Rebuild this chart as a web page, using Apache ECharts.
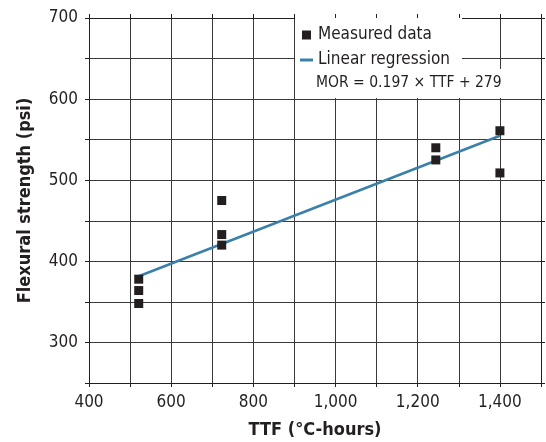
<!DOCTYPE html>
<html>
<head>
<meta charset="utf-8">
<script src="https://cdn.jsdelivr.net/npm/echarts@6/dist/echarts.min.js"></script>
<style>
  html, body { margin: 0; padding: 0; background: #fff; }
  #chart { width: 546px; height: 442px; }
</style>
</head>
<body>
<div id="chart"></div>
<script>
// Measured data: TTF (°C-hours) vs flexural strength (psi)
const ttf = [521, 521, 521, 723, 723, 723, 1244, 1244, 1400, 1400];
const mor = [378, 364, 348, 475, 433, 420, 540, 525, 561, 509];
// Regression line endpoints (MOR = 0.197 x TTF + 279)
const fitTtf = [521, 1400];
const fitMor = [381.6, 554.8];
const formulaText = "MOR = 0.197 × TTF + 279";

const FONT = "'Liberation Sans Narrow', 'DejaVu Sans Condensed', sans-serif";
const INK = "#231f20";
const BLUE = "#3a80a9";

const chart = echarts.init(document.getElementById("chart"), null, { renderer: "canvas" });

const measured = ttf.map((x, i) => [x, mor[i]]);
const fitLine = fitTtf.map((x, i) => [x, fitMor[i]]);

function commas(v) {
  return v.toLocaleString("en-US");
}

chart.setOption({
  animation: false,
  backgroundColor: "#fff",
  grid: { left: 89, top: 18, right: 5, bottom: 59, outerBoundsMode: "none", containLabel: false },
  legend: {
    orient: "vertical",
    left: 295,
    top: 18,
    padding: [8, 12, 1, 5],
    itemGap: 7,
    itemWidth: 13,
    itemHeight: 9,
    symbolKeepAspect: true,
    backgroundColor: "#fff",
    textStyle: { fontFamily: FONT, fontSize: 17, color: INK, lineHeight: 18 },
    data: [
      { name: "Measured data", icon: "path://M0 0H10V10H0Z", itemStyle: { color: INK } },
      { name: "Linear regression", icon: "path://M0 0H13V3H0Z", itemStyle: { color: BLUE } },
    ],
  },
  title: {
    text: formulaText,
    left: 295,
    top: 69,
    padding: [5, 0, 6, 21],
    backgroundColor: "#fff",
    textStyle: { fontFamily: FONT, fontSize: 15.5, fontWeight: "normal", color: INK, lineHeight: 18 },
  },
  xAxis: [
    {
      type: "value",
      min: 400,
      max: 1500,
      interval: 100,
      name: "TTF (°C-hours)",
      nameLocation: "middle",
      nameGap: 38,
      nameTextStyle: { fontFamily: FONT, fontSize: 18, fontWeight: "bold", color: INK },
      axisLine: { lineStyle: { color: INK, width: 1 } },
      axisTick: { show: true, length: 4, inside: false, lineStyle: { color: INK } },
      axisLabel: {
        fontFamily: FONT, fontSize: 17, color: INK, margin: 11,
        formatter: (v) => (v % 200 === 0 && v < 1500 ? commas(v) : ""),
      },
      splitLine: { show: true, lineStyle: { color: "#3a3a3a", width: 1 } },
    },
    {
      type: "value",
      position: "top",
      min: 400,
      max: 1500,
      interval: 100,
      axisLine: { lineStyle: { color: INK } },
      axisTick: { show: true, length: 4, lineStyle: { color: INK } },
      axisLabel: { show: false },
      splitLine: { show: false },
    },
  ],
  yAxis: [
    {
      type: "value",
      min: 250,
      max: 700,
      interval: 50,
      name: "Flexural strength (psi)",
      nameLocation: "middle",
      nameGap: 55,
      nameTextStyle: { fontFamily: FONT, fontSize: 18, fontWeight: "bold", color: INK },
      axisLine: { show: true, lineStyle: { color: INK, width: 1 } },
      axisTick: { show: true, length: 4, lineStyle: { color: INK } },
      axisLabel: {
        fontFamily: FONT, fontSize: 17, color: INK, margin: 11,
        formatter: (v) => (v % 100 === 0 ? String(v) : ""),
      },
      splitLine: { show: true, lineStyle: { color: "#3a3a3a", width: 1 } },
    },
    {
      type: "value",
      position: "right",
      min: 250,
      max: 700,
      interval: 50,
      axisLine: { show: true, lineStyle: { color: INK } },
      axisTick: { show: true, length: 4, lineStyle: { color: INK } },
      axisLabel: { show: false },
      splitLine: { show: false },
    },
  ],
  series: [
    {
      name: "Measured data",
      type: "scatter",
      data: measured,
      symbol: "rect",
      symbolSize: 9,
      itemStyle: { color: INK, opacity: 1 },
      z: 4,
    },
    {
      name: "Linear regression",
      type: "line",
      data: fitLine,
      symbol: "none",
      lineStyle: { color: BLUE, width: 2.5 },
      itemStyle: { color: BLUE },
      z: 3,
    },
  ],
});
</script>
</body>
</html>
